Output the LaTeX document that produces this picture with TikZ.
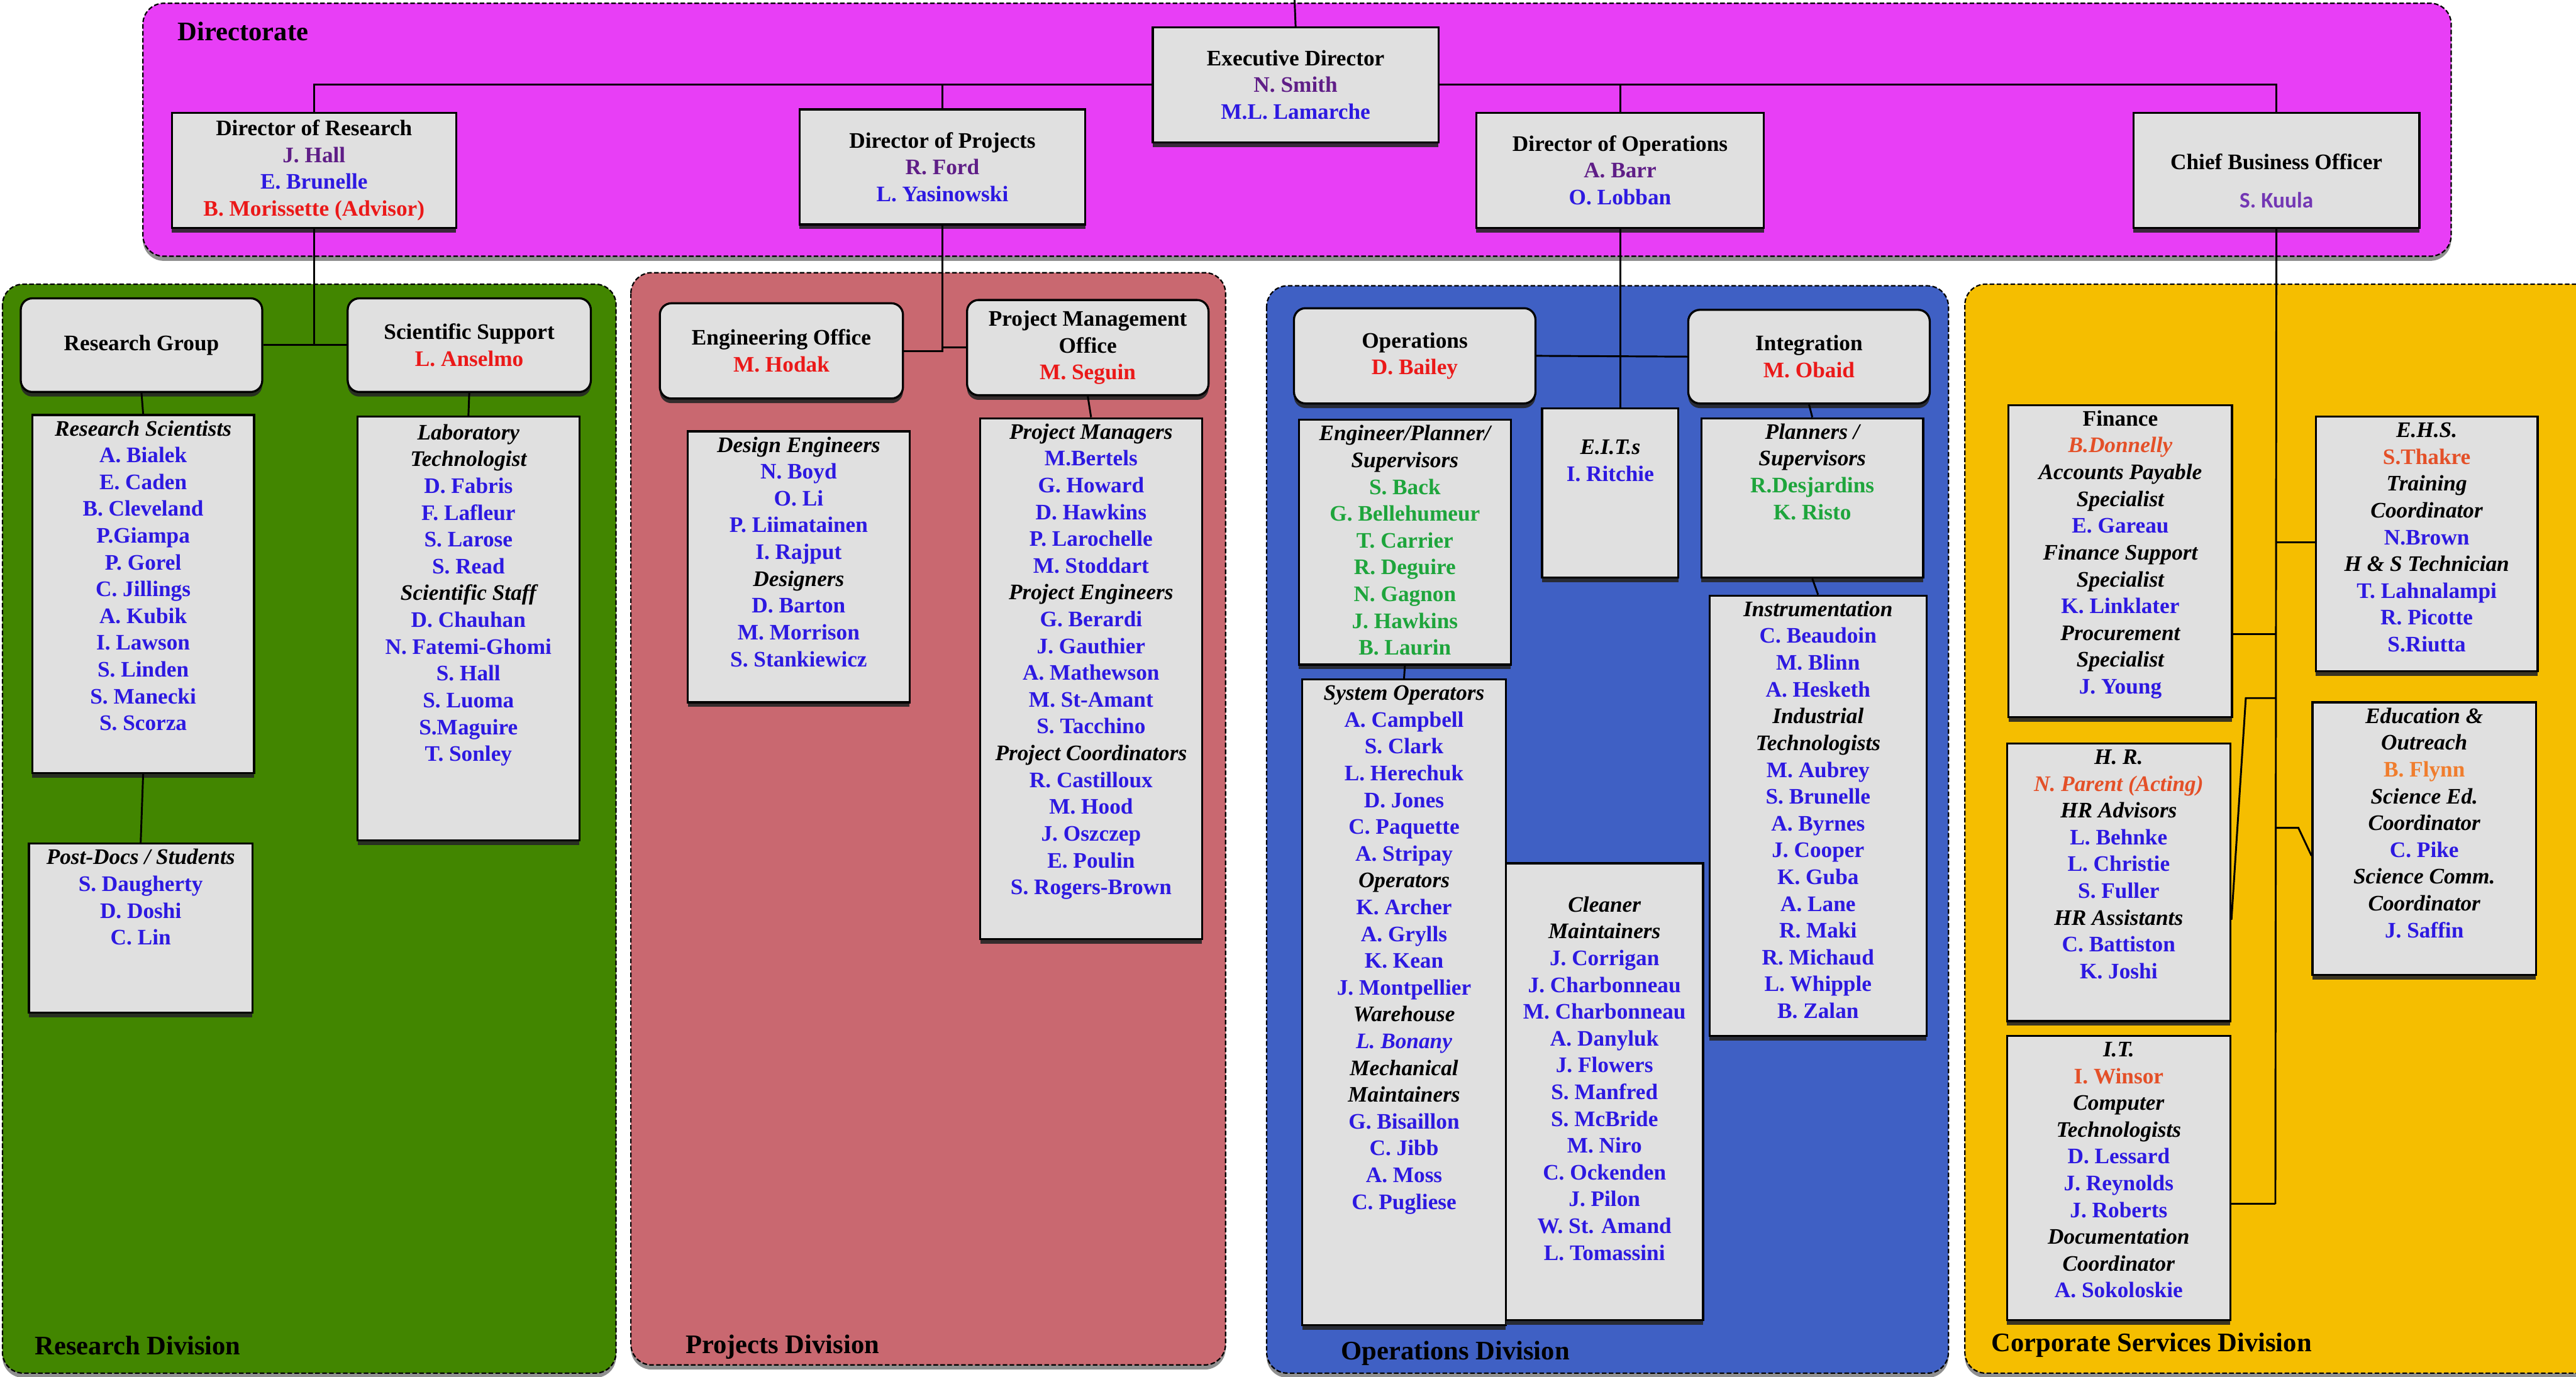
\documentclass[tikz,border=0pt]{standalone}
\usepackage{fontspec}
\setmainfont{Liberation Serif}
\newfontfamily\kuulafont{Carlito}
\usetikzlibrary{shadows}

\definecolor{dirmagenta}{RGB}{232,62,246}
\definecolor{resgreen}{RGB}{66,134,0}
\definecolor{projrose}{RGB}{201,104,112}
\definecolor{opsblue}{RGB}{63,96,196}
\definecolor{corpgold}{RGB}{245,190,0}
\definecolor{boxgray}{RGB}{224,224,224}
\definecolor{nameblue}{RGB}{45,25,225}
\definecolor{namepurple}{RGB}{95,30,135}
\definecolor{kuulapurple}{RGB}{115,55,180}
\definecolor{namered}{RGB}{235,25,25}
\definecolor{namegreen}{RGB}{30,165,60}
\definecolor{nameorange}{RGB}{228,80,40}
\definecolor{flynnorange}{RGB}{240,125,45}

\newlength{\pu}
\setlength{\pu}{0.025cm}
\newcommand{\listcell}[4][9pt]{\parbox[c][#3\pu][t]{#2\pu}{\centering\rule{0pt}{#1}#4}}
\newcommand{\midcell}[3]{\parbox[c][#2\pu][c]{#1\pu}{\centering #3}}
\newcommand{\hd}[1]{{\color{black}\itshape #1}}

\tikzset{
  division/.style={draw=black, dash pattern=on 2pt off 1pt, line width=.6pt, rounded corners=9pt,
    drop shadow={shadow xshift=0pt, shadow yshift=-2pt, fill=black!55, opacity=.8}},
  headbox/.style={draw, fill=boxgray, line width=.9pt, inner sep=0pt, anchor=north west,
    drop shadow={shadow xshift=0pt, shadow yshift=-2pt, fill=black!85, opacity=.9}},
  groupbox/.style={headbox, rounded corners=5pt},
  listbox/.style={headbox, text=nameblue},
  link/.style={draw, line width=.8pt},
  divlabel/.style={anchor=west, inner sep=0pt, font=\fontsize{11.6}{13}\selectfont\bfseries}
}

\begin{document}
\begin{tikzpicture}[x=0.025cm, y=-0.025cm, font=\fontsize{9.6}{11.6}\selectfont\bfseries]
	\useasboundingbox (0,0) rectangle (1568,838);

	\draw[division, fill=dirmagenta] (87,2) rectangle (1492,156);
	\draw[division, fill=resgreen] (1.5,173) rectangle (375,836);
	\draw[division, fill=projrose] (384,166) rectangle (746,831);
	\draw[division, fill=opsblue] (771,174) rectangle (1186,836);
	\draw[division, fill=corpgold] (1196,173) rectangle (1590,836);

	\node[divlabel] (dirlbl) at (108,19) {Directorate};
	\node[divlabel] (reslbl) at (21,819) {Research Division};
	\node[divlabel] (projlbl) at (417,820) {Projects Division};
	\node[divlabel] (opslbl) at (816,824) {Operations Division};
	\node[divlabel] (corplbl) at (1212,819) {Corporate Services Division};

	\node[headbox] (ed) at (701,16) {\midcell{174}{70}{Executive Director\\ \color{namepurple}N. Smith\\ \color{nameblue}M.L. Lamarche}};
	\node[headbox] (dr) at (104,68) {\midcell{173}{70}{Director of Research\\ \color{namepurple}J. Hall\\ \color{nameblue}E. Brunelle\\ \color{namered}B. Morissette (Advisor)}};
	\node[headbox] (dp) at (486,66) {\midcell{174}{70}{Director of Projects\\ \color{namepurple}R. Ford\\ \color{nameblue}L. Yasinowski}};
	\node[headbox] (do) at (898,68) {\midcell{175}{70}{Director of Operations\\ \color{namepurple}A. Barr\\ \color{nameblue}O. Lobban}};
	\node[headbox] (cbo) at (1298,68) {\midcell{174}{70}{\rule{0pt}{16pt}Chief Business Officer\\[5pt] {\kuulafont\color{kuulapurple}S. Kuula}}};

	\node[groupbox] (rg) at (12,181) {\midcell{147}{57}{Research Group}};
	\node[groupbox] (ss) at (211,181) {\midcell{148}{57}{Scientific Support\\ \color{namered}L. Anselmo}};
	\node[listbox] (rs) at (19,252) {\listcell{135}{218}{\hd{Research Scientists}\\ A. Bialek\\ E. Caden\\ B. Cleveland\\ P.Giampa\\ P. Gorel\\ C. Jillings\\ A. Kubik\\ I. Lawson\\ S. Linden\\ S. Manecki\\ S. Scorza}};
	\node[listbox] (pd) at (17,513) {\listcell{136}{103}{\hd{Post-Docs / Students}\\ S. Daugherty\\ D. Doshi\\ C. Lin}};
	\node[listbox] (lab) at (217,253) {\listcell[10pt]{135}{258}{\hd{Laboratory}\\ \hd{Technologist}\\ D. Fabris\\ F. Lafleur\\ S. Larose\\ S. Read\\ \hd{Scientific Staff}\\ D. Chauhan\\ N. Fatemi-Ghomi\\ S. Hall\\ S. Luoma\\ S.Maguire\\ T. Sonley}};

	\node[groupbox] (eo) at (401,184) {\midcell{148}{58}{Engineering Office\\ \color{namered}M. Hodak}};
	\node[groupbox] (pmo) at (588,182) {\midcell{147}{58}{Project Management\\ Office\\ \color{namered}M. Seguin}};
	\node[listbox] (de) at (418,262) {\listcell{135}{165}{\hd{Design Engineers}\\ N. Boyd\\ O. Li\\ P. Liimatainen\\ I. Rajput\\ \hd{Designers}\\ D. Barton\\ M. Morrison\\ S. Stankiewicz}};
	\node[listbox] (pm) at (596,254) {\listcell{135}{317}{\hd{Project Managers}\\ M.Bertels\\ G. Howard\\ D. Hawkins\\ P. Larochelle\\ M. Stoddart\\ \hd{Project Engineers}\\ G. Berardi\\ J. Gauthier\\ A. Mathewson\\ M. St-Amant\\ S. Tacchino\\ \hd{Project Coordinators}\\ R. Castilloux\\ M. Hood\\ J. Oszczep\\ E. Poulin\\ S. Rogers-Brown}};

	\node[groupbox] (op) at (787,187) {\midcell{147}{58}{Operations\\ \color{namered}D. Bailey}};
	\node[groupbox] (int) at (1027,188) {\midcell{147}{57}{Integration\\ \color{namered}M. Obaid}};
	\node[listbox] (eps) at (790,255) {\listcell{129}{149}{\hd{Engineer/Planner/}\\ \hd{Supervisors}\\ \color{namegreen}S. Back\\ G. Bellehumeur\\ T. Carrier\\ R. Deguire\\ N. Gagnon\\ J. Hawkins\\ B. Laurin}};
	\node[listbox] (eit) at (938,248) {\listcell[20pt]{83}{103}{\hd{E.I.T.s}\\ I. Ritchie}};
	\node[listbox] (ps) at (1035,254) {\listcell{135}{97}{\hd{Planners /}\\ \hd{Supervisors}\\ \color{namegreen}R.Desjardins\\ K. Risto}};
	\node[listbox] (so) at (792,413) {\listcell{124}{393}{\hd{System Operators}\\ A. Campbell\\ S. Clark\\ L. Herechuk\\ D. Jones\\ C. Paquette\\ A. Stripay\\ \hd{Operators}\\ K. Archer\\ A. Grylls\\ K. Kean\\ J. Montpellier\\ \hd{Warehouse}\\ {\itshape L. Bonany}\\ \hd{Mechanical}\\ \hd{Maintainers}\\ G. Bisaillon\\ C. Jibb\\ A. Moss\\ C. Pugliese}};
	\node[listbox] (cm) at (916,525) {\listcell[21pt]{120}{278}{\hd{Cleaner}\\ \hd{Maintainers}\\ J. Corrigan\\ J. Charbonneau\\ M. Charbonneau\\ A. Danyluk\\ J. Flowers\\ S. Manfred\\ S. McBride\\ M. Niro\\ C. Ockenden\\ J. Pilon\\ W. St. Amand\\ L. Tomassini}};
	\node[listbox] (instr) at (1040,362) {\listcell{132}{268}{\hd{Instrumentation}\\ C. Beaudoin\\ M. Blinn\\ A. Hesketh\\ \hd{Industrial}\\ \hd{Technologists}\\ M. Aubrey\\ S. Brunelle\\ A. Byrnes\\ J. Cooper\\ K. Guba\\ A. Lane\\ R. Maki\\ R. Michaud\\ L. Whipple\\ B. Zalan}};

	\node[listbox] (fin) at (1222,246) {\listcell{136}{190}{{\color{black}Finance}\\ {\color{nameorange}\itshape B.Donnelly}\\ \hd{Accounts Payable}\\ \hd{Specialist}\\ E. Gareau\\ \hd{Finance Support}\\ \hd{Specialist}\\ K. Linklater\\ \hd{Procurement}\\ \hd{Specialist}\\ J. Young}};
	\node[listbox] (ehs) at (1409,253) {\listcell{135}{155}{\hd{E.H.S.}\\ {\color{nameorange}S.Thakre}\\ \hd{Training}\\ \hd{Coordinator}\\ N.Brown\\ \hd{H \& S Technician}\\ T. Lahnalampi\\ R. Picotte\\ S.Riutta}};
	\node[listbox] (hr) at (1221,452) {\listcell{136}{169}{\hd{H. R.}\\ {\color{nameorange}\itshape N. Parent (Acting)}\\ \hd{HR Advisors}\\ L. Behnke\\ L. Christie\\ S. Fuller\\ \hd{HR Assistants}\\ C. Battiston\\ K. Joshi}};
	\node[listbox] (edu) at (1407,427) {\listcell{136}{166}{\hd{Education \&}\\ \hd{Outreach}\\ {\color{flynnorange}B. Flynn}\\ \hd{Science Ed.}\\ \hd{Coordinator}\\ C. Pike\\ \hd{Science Comm.}\\ \hd{Coordinator}\\ J. Saffin}};
	\node[listbox] (it) at (1221,630) {\listcell{136}{173}{\hd{I.T.}\\ {\color{nameorange}I. Winsor}\\ \hd{Computer}\\ \hd{Technologists}\\ D. Lessard\\ J. Reynolds\\ J. Roberts\\ \hd{Documentation}\\ \hd{Coordinator}\\ A. Sokoloskie}};

	\coordinate (top) at (788,0);
	\coordinate (tEHS) at (1385,330);
	\coordinate (tFin) at (1385,386);
	\coordinate (tHR) at (1385,425);
	\coordinate (hrBend) at (1367,425);
	\coordinate (tEdu) at (1385,504);
	\coordinate (eduBend) at (1399,504);
	\coordinate (tIT) at (1385,733);

	\draw[link] (top) -- (ed.north);
	\draw[link] (ed.west) -| (dr.north);
	\draw[link] (dp.north) -- (dp.north |- ed.west);
	\draw[link] (ed.east) -| (cbo.north);
	\draw[link] (do.north) -- (do.north |- ed.east);

	\draw[link] (dr.south) -- (dr.south |- rg.east);
	\draw[link] (rg.east) -- (ss.west);
	\draw[link] (rg.south) -- (rs.north);
	\draw[link] (rs.south) -- (pd.north);
	\draw[link] (ss.south) -- (lab.north);

	\draw[link] (dp.south) -- (dp.south |- eo.east);
	\draw[link] (eo.east) -- (dp.south |- eo.east) |- (pmo.west);
	\draw[link] (pmo.south) -- (pm.north);

	\draw[link] (do.south) -- (do.south |- eit.north);
	\draw[link] (op.east) -- (int.west);
	\draw[link] (eps.south) -- (so.north);
	\draw[link] (int.south) -- (ps.north);
	\draw[link] (ps.south) -- (instr.north);

	\draw[link] (cbo.south) -- (tIT);
	\draw[link] (tEHS) -- (ehs.west |- tEHS);
	\draw[link] (tFin) -- (fin.east |- tFin);
	\draw[link] (tHR) -- (hrBend) -- (hr.east |- 0,560);
	\draw[link] (tEdu) -- (eduBend) -- (edu.west |- 0,521);
	\draw[link] (tIT) -- (it.east |- tIT);
\end{tikzpicture}
\end{document}
